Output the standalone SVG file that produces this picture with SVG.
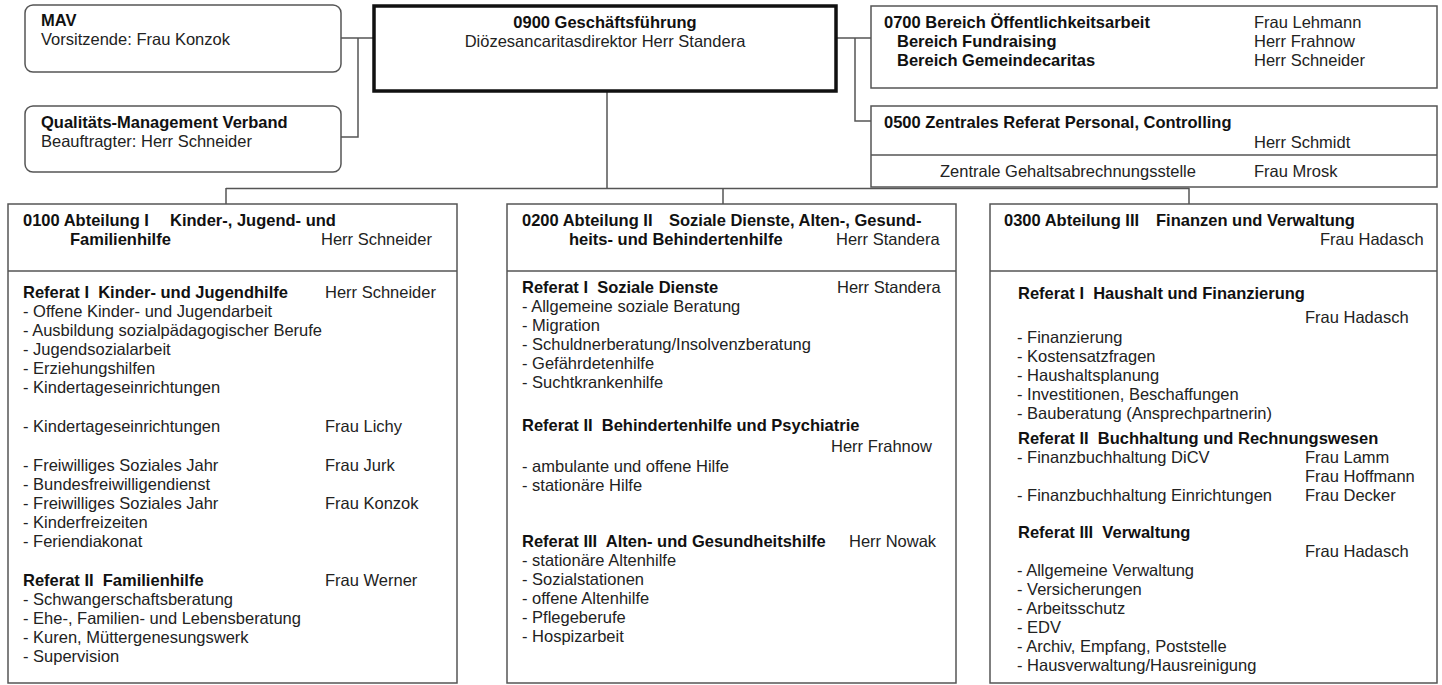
<svg xmlns="http://www.w3.org/2000/svg" width="1442" height="685" viewBox="0 0 1442 685">
<style>
text{font-family:"Liberation Sans",Arial,sans-serif;font-size:16.5px;fill:#222;white-space:pre}
.b{font-weight:bold;fill:#111}
.box{fill:#fff;stroke:#555;stroke-width:1.5}
.main{fill:#fff;stroke:#111;stroke-width:3.5}
.ln{fill:none;stroke:#555;stroke-width:1.5}
.c{text-anchor:middle}
</style>
<rect width="1442" height="685" fill="#fff"/>
<g id="connectors" class="ln">
<path d="M341,38 H373"/>
<path d="M358,38 V137 H341"/>
<path d="M836,38 H871"/>
<path d="M855,38 V121 H871"/>
<path d="M607,91 V188"/>
<path d="M226,188.5 H1189"/>
<path d="M226,188 V204"/>
<path d="M723,188 V204"/>
<path d="M1189,188 V204"/>
</g>
<g id="mav">
<rect class="box" x="25" y="5" width="316" height="67" rx="8"/>
<text class="b" x="41" y="26">MAV</text>
<text x="41" y="45">Vorsitzende: Frau Konzok</text>
</g>
<g id="qm">
<rect class="box" x="25" y="106" width="316" height="66" rx="8"/>
<text class="b" x="41" y="128">Qualitäts-Management Verband</text>
<text x="41" y="147">Beauftragter: Herr Schneider</text>
</g>
<g id="gf">
<rect class="main" x="374" y="6" width="462" height="85"/>
<text class="b c" x="605" y="28">0900 Geschäftsführung</text>
<text class="c" x="605" y="47">Diözesancaritasdirektor Herr Standera</text>
</g>
<g id="b0700">
<rect class="box" x="871" y="6" width="566" height="82"/>
<text class="b" x="884" y="28">0700 Bereich Öffentlichkeitsarbeit</text>
<text class="b" x="897" y="47">Bereich Fundraising</text>
<text class="b" x="897" y="66">Bereich Gemeindecaritas</text>
<text x="1254" y="28">Frau Lehmann</text>
<text x="1254" y="47">Herr Frahnow</text>
<text x="1254" y="66">Herr Schneider</text>
</g>
<g id="b0500">
<rect class="box" x="871" y="106" width="566" height="81"/>
<path class="ln" d="M871,155 H1437"/>
<text class="b" x="884" y="128">0500 Zentrales Referat Personal, Controlling</text>
<text x="1254" y="148">Herr Schmidt</text>
<text x="940" y="177">Zentrale Gehaltsabrechnungsstelle</text>
<text x="1254" y="177">Frau Mrosk</text>
</g>
<g id="abt1">
<rect class="box" x="8" y="204" width="449" height="479"/>
<path class="ln" d="M8,271 H457"/>
<text class="b" x="23" y="226">0100 Abteilung I</text>
<text class="b" x="170" y="226">Kinder-, Jugend- und</text>
<text class="b" x="70" y="245">Familienhilfe</text>
<text x="321" y="245">Herr Schneider</text>
<text class="b" x="23" y="298">Referat I  Kinder- und Jugendhilfe</text>
<text x="325" y="298">Herr Schneider</text>
<text x="23" y="317">- Offene Kinder- und Jugendarbeit</text>
<text x="23" y="336">- Ausbildung sozialpädagogischer Berufe</text>
<text x="23" y="355">- Jugendsozialarbeit</text>
<text x="23" y="374">- Erziehungshilfen</text>
<text x="23" y="393">- Kindertageseinrichtungen</text>
<text x="23" y="432">- Kindertageseinrichtungen</text>
<text x="325" y="432">Frau Lichy</text>
<text x="23" y="471">- Freiwilliges Soziales Jahr</text>
<text x="325" y="471">Frau Jurk</text>
<text x="23" y="490">- Bundesfreiwilligendienst</text>
<text x="23" y="509">- Freiwilliges Soziales Jahr</text>
<text x="325" y="509">Frau Konzok</text>
<text x="23" y="528">- Kinderfreizeiten</text>
<text x="23" y="547">- Feriendiakonat</text>
<text class="b" x="23" y="586">Referat II  Familienhilfe</text>
<text x="325" y="586">Frau Werner</text>
<text x="23" y="605">- Schwangerschaftsberatung</text>
<text x="23" y="624">- Ehe-, Familien- und Lebensberatung</text>
<text x="23" y="643">- Kuren, Müttergenesungswerk</text>
<text x="23" y="662">- Supervision</text>
</g>
<g id="abt2">
<rect class="box" x="507" y="204" width="449" height="479"/>
<path class="ln" d="M507,271 H956"/>
<text class="b" x="522" y="226">0200 Abteilung II</text>
<text class="b" x="669" y="226">Soziale Dienste, Alten-, Gesund-</text>
<text class="b" x="569" y="245">heits- und Behindertenhilfe</text>
<text x="836" y="245">Herr Standera</text>
<text class="b" x="522" y="293">Referat I  Soziale Dienste</text>
<text x="837" y="293">Herr Standera</text>
<text x="522" y="312">- Allgemeine soziale Beratung</text>
<text x="522" y="331">- Migration</text>
<text x="522" y="350">- Schuldnerberatung/Insolvenzberatung</text>
<text x="522" y="369">- Gefährdetenhilfe</text>
<text x="522" y="388">- Suchtkrankenhilfe</text>
<text class="b" x="522" y="431">Referat II  Behindertenhilfe und Psychiatrie</text>
<text x="831" y="452">Herr Frahnow</text>
<text x="522" y="472">- ambulante und offene Hilfe</text>
<text x="522" y="491">- stationäre Hilfe</text>
<text class="b" x="522" y="547">Referat III  Alten- und Gesundheitshilfe</text>
<text x="849" y="547">Herr Nowak</text>
<text x="522" y="566">- stationäre Altenhilfe</text>
<text x="522" y="585">- Sozialstationen</text>
<text x="522" y="604">- offene Altenhilfe</text>
<text x="522" y="623">- Pflegeberufe</text>
<text x="522" y="642">- Hospizarbeit</text>
</g>
<g id="abt3">
<rect class="box" x="990" y="204" width="447" height="479"/>
<path class="ln" d="M990,271 H1437"/>
<text class="b" x="1004" y="226">0300 Abteilung III</text>
<text class="b" x="1156" y="226">Finanzen und Verwaltung</text>
<text x="1320" y="245">Frau Hadasch</text>
<text class="b" x="1018" y="299">Referat I  Haushalt und Finanzierung</text>
<text x="1305" y="323">Frau Hadasch</text>
<text x="1017" y="343">- Finanzierung</text>
<text x="1017" y="362">- Kostensatzfragen</text>
<text x="1017" y="381">- Haushaltsplanung</text>
<text x="1017" y="400">- Investitionen, Beschaffungen</text>
<text x="1017" y="419">- Bauberatung (Ansprechpartnerin)</text>
<text class="b" x="1018" y="444">Referat II  Buchhaltung und Rechnungswesen</text>
<text x="1017" y="463">- Finanzbuchhaltung DiCV</text>
<text x="1305" y="463">Frau Lamm</text>
<text x="1305" y="482">Frau Hoffmann</text>
<text x="1017" y="501">- Finanzbuchhaltung Einrichtungen</text>
<text x="1305" y="501">Frau Decker</text>
<text class="b" x="1018" y="538">Referat III  Verwaltung</text>
<text x="1305" y="557">Frau Hadasch</text>
<text x="1017" y="576">- Allgemeine Verwaltung</text>
<text x="1017" y="595">- Versicherungen</text>
<text x="1017" y="614">- Arbeitsschutz</text>
<text x="1017" y="633">- EDV</text>
<text x="1017" y="652">- Archiv, Empfang, Poststelle</text>
<text x="1017" y="671">- Hausverwaltung/Hausreinigung</text>
</g>
</svg>
